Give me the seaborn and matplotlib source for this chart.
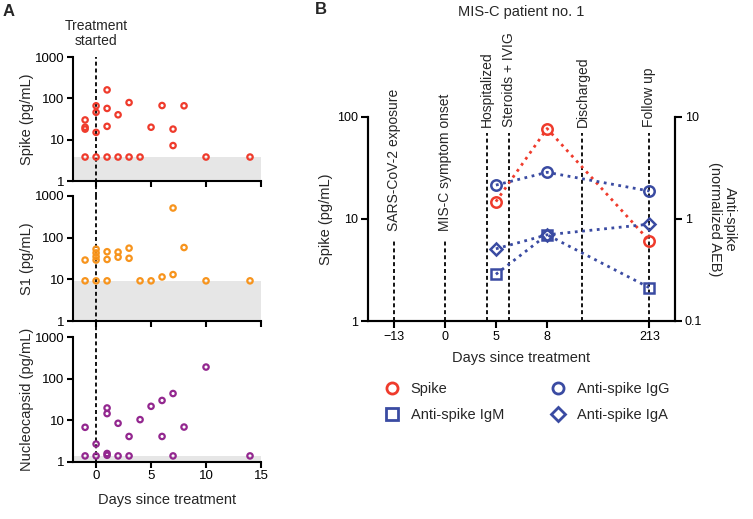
import matplotlib
matplotlib.use("Agg")
import matplotlib.pyplot as plt
from matplotlib.lines import Line2D
import seaborn as sns

# ---- Panel A: individual patients, days since treatment vs pg/mL ----
spike_day = [-1, -1, -1, -1, 0, 0, 0, 0, 1, 1, 1, 1, 2, 2, 3, 3, 4, 5, 6, 7, 7, 8, 10, 14]
spike_val = [30, 20, 18, 3.8, 66, 46, 15, 3.8, 160, 57, 21, 3.8, 40, 3.8, 79, 3.8, 3.8,
             20, 67, 18, 7.2, 66, 3.8, 3.8]
spike_lod = 3.8

s1_day = [-1, -1, 0, 0, 0, 0, 0, 1, 1, 1, 2, 2, 3, 3, 4, 5, 6, 7, 7, 8, 10, 14]
s1_val = [29, 9.2, 53, 43, 35, 29, 9.2, 46, 30, 9.2, 45, 34, 56, 32, 9.2, 9.2, 11.4,
          515, 13, 58, 9.2, 9.2]
s1_lod = 9.2

nuc_day = [-1, -1, 0, 0, 1, 1, 1, 1, 2, 2, 3, 3, 4, 5, 6, 6, 7, 7, 8, 10, 14]
nuc_val = [6.8, 1.4, 2.7, 1.4, 19.8, 14.5, 1.6, 1.45, 8.5, 1.4, 4.1, 1.4, 10.4, 21.7,
           30, 4.1, 44, 1.4, 6.9, 190, 1.4]
nuc_lod = 1.4

# ---- Panel B: MIS-C patient no. 1 ----
b_days = [5, 8, 213]
b_spike = [14.8, 77, 6.1]
b_igg = [2.15, 2.87, 1.88]
b_igm = [0.287, 0.70, 0.212]
b_iga = [0.51, 0.70, 0.89]

tick_days = [-13, 0, 5, 8, 213]
tick_slots = [0, 1, 2, 3, 5]
event_labels = ["SARS-CoV-2 exposure", "MIS-C symptom onset", "Hospitalized",
                "Steroids + IVIG", "Discharged", "Follow up"]
event_slots = [0, 1, 1.82, 2.25, 3.69, 5]

red = "#EF3B2C"
orange = "#F7941D"
purple = "#93278F"
blue = "#3A4BA2"
shade = "#E6E6E6"

sns.set_theme(style="ticks")
plt.rcParams["font.family"] = ["Liberation Sans", "DejaVu Sans"]
plt.rcParams["axes.linewidth"] = 1.5
plt.rcParams["xtick.major.width"] = 1.5
plt.rcParams["ytick.major.width"] = 1.5
plt.rcParams["xtick.major.size"] = 4
plt.rcParams["ytick.major.size"] = 4

fig = plt.figure(figsize=(7.53, 5.19), dpi=100)
W, H = 753, 519


def box(x0, y0, x1, y1):
    return [x0 / W, 1 - y1 / H, (x1 - x0) / W, (y1 - y0) / H]


ax1 = fig.add_axes(box(73, 57, 261, 181))
ax2 = fig.add_axes(box(73, 196, 261, 321))
ax3 = fig.add_axes(box(73, 337, 261, 462))

panels = [
    (ax1, spike_day, spike_val, spike_lod, red, "Spike (pg/mL)", -0.121),
    (ax2, s1_day, s1_val, s1_lod, orange, "S1 (pg/mL)", -0.128),
    (ax3, nuc_day, nuc_val, nuc_lod, purple, "Nucleocapsid (pg/mL)", 0),
]
for ax, d, v, lod, c, lab, ymin in panels:
    ax.axhspan(1, lod, color=shade, lw=0, zorder=0)
    sns.scatterplot(x=d, y=v, ax=ax, s=15, facecolors="none", edgecolor=c,
                    linewidth=1.6, zorder=3, clip_on=False)
    ax.axvline(0, ymin=ymin, ymax=1, color="black", lw=1.3,
               ls=(0, (2.2, 1.6)), clip_on=False, zorder=2)
    ax.set_yscale("log")
    ax.set_ylim(1, 1000)
    ax.set_xlim(-2.1, 15)
    ax.set_yticks([1, 10, 100, 1000])
    ax.set_yticklabels(["1", "10", "100", "1000"])
    ax.minorticks_off()
    ax.set_xticks([0, 5, 10, 15])
    ax.tick_params(labelsize=9.5, pad=2, colors="black")
    ax.set_ylabel(lab, fontsize=10.5)
    ax.yaxis.set_label_coords(-0.21, 0.5)
    sns.despine(ax=ax)
    for s in ax.spines.values():
        s.set_color("black")

ax1.set_xticklabels([])
ax2.set_xticklabels([])
ax3.set_xlabel("Days since treatment", fontsize=10.5, labelpad=8)
ax1.text(0, 1.07, "Treatment\nstarted", transform=ax1.get_xaxis_transform(),
         ha="center", va="bottom", fontsize=10, linespacing=1.15)

# ---- Panel B ----
axb = fig.add_axes(box(368, 117, 675, 321))
axr = axb.twinx()
slot = dict(zip(tick_days, tick_slots))
bx = [slot[d] for d in b_days]

for xs, lab in zip(event_slots, event_labels):
    early = lab in ("SARS-CoV-2 exposure", "MIS-C symptom onset")
    top = 6.2 if early else 70
    txt_y = 7.6 if early else 79
    axb.plot([xs, xs], [1, top], color="black", lw=1.3, ls=(0, (2.2, 1.6)), zorder=1)
    axb.text(xs, txt_y, lab, rotation=90, ha="center", va="bottom", fontsize=10,
             clip_on=False)

mk = dict(markerfacecolor="none", markersize=7.5, markeredgewidth=1.8, lw=2,
          linestyle=":", zorder=3)
sns.lineplot(x=bx, y=b_spike, ax=axb, color=red, marker="o", markeredgecolor=red, **mk)
sns.lineplot(x=bx, y=b_igg, ax=axr, color=blue, marker="o", markeredgecolor=blue, **mk)
sns.lineplot(x=bx, y=b_iga, ax=axr, color=blue, marker="D", markeredgecolor=blue,
             **{**mk, "markersize": 6.5})
sns.lineplot(x=bx, y=b_igm, ax=axr, color=blue, marker="s", markeredgecolor=blue, **mk)

axb.set_yscale("log")
axb.set_ylim(1, 100)
axr.set_yscale("log")
axr.set_ylim(0.1, 10)
axb.set_xlim(-0.5, 5.5)
axb.set_xticks(tick_slots)
axb.set_xticklabels(["\u221213" if d < 0 else str(d) for d in tick_days])
axb.set_yticks([1, 10, 100])
axb.set_yticklabels(["1", "10", "100"])
axr.set_yticks([0.1, 1, 10])
axr.set_yticklabels(["0.1", "1", "10"])
for a in (axb, axr):
    a.minorticks_off()
    a.tick_params(labelsize=9, pad=2, colors="black", length=5)
    a.spines["top"].set_visible(False)
    for s in a.spines.values():
        s.set_color("black")
axb.set_xlabel("Days since treatment", fontsize=10.5, labelpad=6)
axb.set_ylabel("Spike (pg/mL)", fontsize=10.5)
axb.yaxis.set_label_coords(-0.114, 0.5)
axr.set_ylabel("Anti-spike\n(normalized AEB)", fontsize=10.5, rotation=270,
               va="bottom", ha="center", linespacing=1.1)
axr.yaxis.set_label_coords(1.107, 0.5)
axb.set_title("MIS-C patient no. 1", fontsize=10.5, pad=0, y=1.0)
axb.title.set_position((0.5, 1 + (117 - 12) / 204))
axb.title.set_va("center")

handles = [
    Line2D([], [], ls="none", marker="o", mfc="none", mec=red, mew=2, ms=8),
    Line2D([], [], ls="none", marker="s", mfc="none", mec=blue, mew=2, ms=8),
    Line2D([], [], ls="none", marker="o", mfc="none", mec=blue, mew=2, ms=8),
    Line2D([], [], ls="none", marker="D", mfc="none", mec=blue, mew=2, ms=7),
]
labels = ["Spike", "Anti-spike IgM", "Anti-spike IgG", "Anti-spike IgA"]
fig.legend(handles, labels, loc="upper left", bbox_to_anchor=(383 / W, 1 - 382 / H),
           ncol=2, frameon=False, fontsize=10.5, borderpad=0, borderaxespad=0,
           handlelength=1.2, handletextpad=0.7, columnspacing=3.1, labelspacing=0.85)

fig.text(3 / W, 1 - 11 / H, "A", fontsize=12, weight="bold", va="center", ha="left")
fig.text(315 / W, 1 - 10 / H, "B", fontsize=12, weight="bold", va="center", ha="left")

fig.savefig("out.png", dpi=100)
